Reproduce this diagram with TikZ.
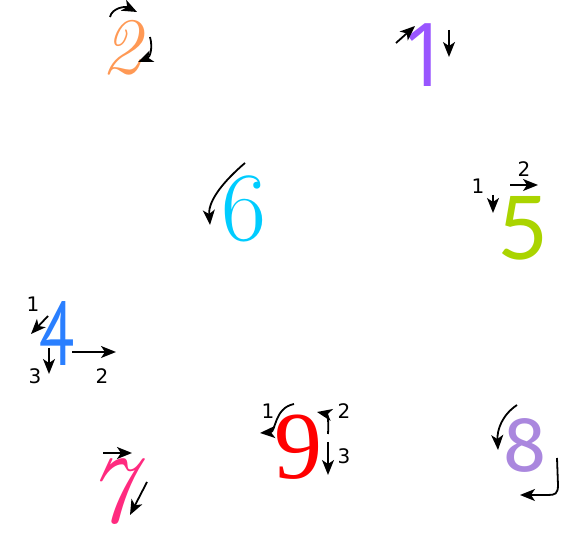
\documentclass[tikz,border=0pt]{standalone}
\usepackage{fontspec}
\usepackage{xcolor}
\usepackage{tikz}
\usetikzlibrary{arrows.meta, positioning}
\newfontfamily\hintfont{DejaVu Sans}
\newfontfamily\serifdigit{Liberation Serif}
\newfontfamily\sansdigit[FakeStretch=0.72]{PT Sans}
\newfontfamily\plaindigit{Open Sans}
\newfontfamily\thindigit{Lato}
\newfontfamily\rounddigit{Fira Sans}
\definecolor{digitorange}{HTML}{FF9955}
\definecolor{digitviolet}{HTML}{9955FF}
\definecolor{digitcyan}{HTML}{00CCFF}
\definecolor{digitlime}{HTML}{AAD400}
\definecolor{digitblue}{HTML}{2A7FFF}
\definecolor{digitred}{HTML}{FF0000}
\definecolor{digitlilac}{HTML}{AA87DE}
\definecolor{digitpink}{HTML}{FF2A7F}
\tikzset{
	digit/.style={inner sep=0pt, outer sep=0pt},
	hint/.style={-{Stealth[length=15pt, width=12pt, inset=4pt]}, line width=1.8pt, black},
	order/.style={inner sep=0pt, font=\hintfont\fontsize{20}{20}\selectfont}
}
\begin{document}
\begin{tikzpicture}[x=1pt, y=-1pt]
				\useasboundingbox (0,0) rectangle (579,534);
				\node[digit, digitorange, font=\itshape\fontsize{80}{80}\selectfont] (two) at (121,48) {2};
				\draw[hint] (110,17) .. controls (112,8) and (125,6) .. (137,12);
				\draw[hint] (150,37) .. controls (153,48) and (150,57) .. (138,62);
				\node[digit, digitviolet, font=\plaindigit\fontsize{88}{88}\selectfont] (one) at (426,55) {1};
				\draw[hint] (396,43) -- (415,26);
				\draw[hint] (449,30) -- (449,57);
				\node[digit, digitcyan, font=\fontsize{98}{98}\selectfont] (six) at (244,209) {6};
				\draw[hint] (245,163) .. controls (225,180) and (208,200) .. (210,225);
				\node[digit, digitlime, font=\thindigit\fontsize{88}{88}\selectfont] (five) at (523,228) {5};
				\node[order] (fiveA) at (478,186) {1};
				\draw[hint] (493,195) -- (493,213);
				\node[order] (fiveB) at (524,169) {2};
				\draw[hint] (510,185) -- (538,185);
				\node[digit, digitblue, font=\sansdigit\fontsize{90}{90}\selectfont] (four) at (57,334) {4};
				\node[order] (fourA) at (33,304) {1};
				\draw[hint] (48,316) -- (31,334);
				\node[order] (fourB) at (102,376) {2};
				\draw[hint] (72,352) -- (116,352);
				\node[order] (fourC) at (35,376) {3};
				\draw[hint] (49,348) -- (49,374);
				\node[digit, digitred, font=\serifdigit\fontsize{96}{96}\selectfont] (nine) at (298,447) {9};
				\node[order] (nineA) at (268,411) {1};
				\draw[hint] (294,404) .. controls (274,408) and (276,432) .. (260,433);
				\node[order] (nineB) at (344,411) {2};
				\draw[hint] (328,434) .. controls (329,420) and (327,414) .. (317,412);
				\node[order] (nineC) at (344,456) {3};
				\draw[hint] (328,442) -- (328,475);
				\node[digit, digitlilac, font=\rounddigit\fontsize{78}{78}\selectfont] (eight) at (525,445) {8};
				\draw[hint] (517,405) .. controls (502,415) and (497,430) .. (498,450);
				\draw[hint] (557,458) -- (558,485) .. controls (558,494) and (555,495) .. (548,495) -- (520,495);
				\node[digit, digitpink, font=\itshape\fontsize{96}{96}\selectfont] (seven) at (110,492) {7};
				\draw[hint] (103,453) -- (132,453);
				\draw[hint] (147,482) -- (130,515);
			\end{tikzpicture}
\end{document}
